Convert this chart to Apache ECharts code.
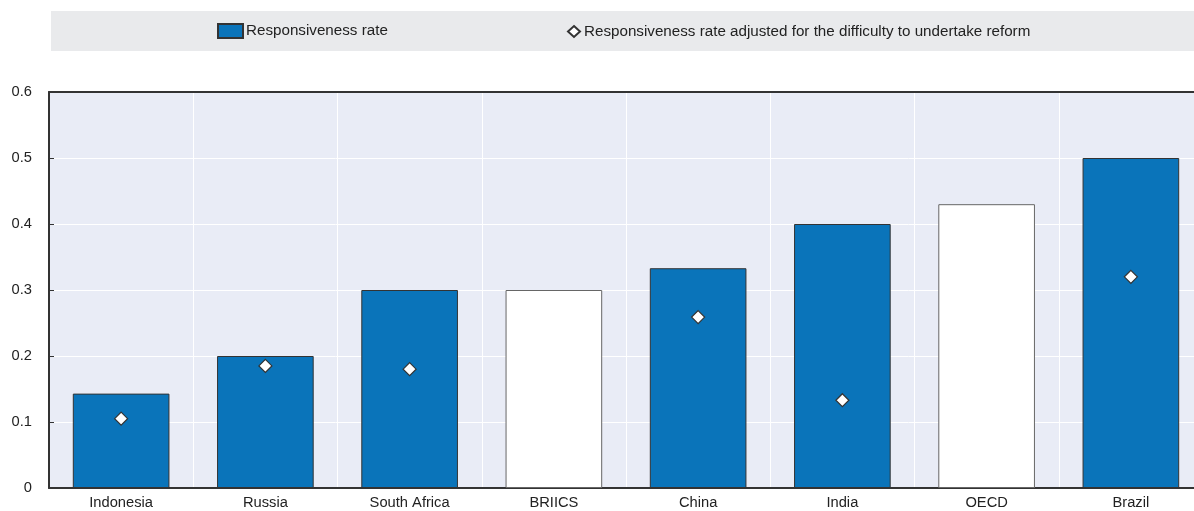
<!DOCTYPE html>
<html><head><meta charset="utf-8">
<script src="https://cdn.jsdelivr.net/npm/echarts@6/dist/echarts.min.js"></script>
<style>html,body{margin:0;padding:0;background:#fff}#c{width:1194px;height:511px}</style>
</head><body><div id="c"></div>
<script>
const categories = ['Indonesia','Russia','South Africa','BRIICS','China','India','OECD','Brazil'];
const rate = [0.143, 0.2, 0.3, 0.3, 0.333, 0.4, 0.43, 0.5];
const adjusted = [0.105, 0.185, 0.18, null, 0.259, 0.133, null, 0.32];
const highlight = ['BRIICS','OECD'];
const yTicks = [0, 0.1, 0.2, 0.3, 0.4, 0.5, 0.6];

const FONT = '"Liberation Sans", Arial, sans-serif';
const chart = echarts.init(document.getElementById('c'), null, {renderer:'canvas'});
chart.setOption({
  animation:false,
  graphic:[{type:'rect', left:51, top:11, shape:{width:1160, height:40}, style:{fill:'#E9EAEC'}, z:-1}],
  legend:[
    {data:['Responsiveness rate'], icon:'rect', left:217, top:23, itemWidth:25, itemHeight:14, padding:0,
     textStyle:{fontFamily:FONT, fontSize:15.2, color:'#222', padding:[4,0,0,-2]}},
    {data:['Responsiveness rate adjusted for the difficulty to undertake reform'], left:567, top:24, padding:0,
     itemWidth:12, itemHeight:11, textStyle:{fontFamily:FONT, fontSize:15.2, color:'#222', padding:[1,0,0,-1]}}
  ],
  grid:{left:49, width:1154, top:92, height:396, outerBoundsMode:'none', containLabel:false,
        show:true, backgroundColor:'#E9ECF6', borderWidth:0},
  xAxis:[{type:'category', data:categories, boundaryGap:true,
    axisLine:{lineStyle:{color:'#333', width:2}},
    axisTick:{inside:true, length:5, lineStyle:{color:'#333'}},
    axisLabel:{fontFamily:FONT, fontSize:14.7, color:'#222', margin:7},
    splitLine:{show:true, lineStyle:{color:'#fff', width:1}}},
    {type:'category', data:categories, position:'top', axisLine:{lineStyle:{color:'#333', width:2}},
     axisTick:{show:false}, axisLabel:{show:false}}],
  yAxis:{type:'value', min:0, max:0.6, interval:0.1,
    axisLine:{show:true, lineStyle:{color:'#333', width:2}},
    axisTick:{show:true, inside:true, length:5, lineStyle:{color:'#333'}},
    axisLabel:{fontFamily:FONT, fontSize:14.7, color:'#222', margin:17,
      formatter:v=>yTicks.includes(Math.round(v*10)/10)? String(Math.round(v*10)/10):''},
    splitLine:{lineStyle:{color:'#fff', width:1}}},
  series:[
    {name:'Responsiveness rate', type:'bar', barCategoryGap:'33%',
     itemStyle:{color:'#0A74BA', borderColor:'#333', borderWidth:1},
     data: rate.map((v,i)=> highlight.includes(categories[i]) ?
        {value:v, itemStyle:{color:'#fff', borderColor:'#666'}} : v)},
    {name:'Responsiveness rate adjusted for the difficulty to undertake reform', type:'scatter',
     symbol:'diamond', symbolSize:13, data:adjusted,
     itemStyle:{color:'#fff', borderColor:'#333', borderWidth:1.2, opacity:1}, z:5}
  ]
});
</script></body></html>
